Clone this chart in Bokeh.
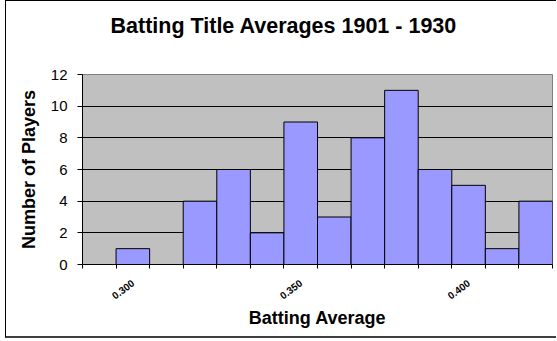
from bokeh.plotting import figure
from bokeh.models import Range1d, FixedTicker
from bokeh.embed import file_html
from bokeh.resources import INLINE

# ---- data ----
bin_centers = [0.290, 0.300, 0.310, 0.320, 0.330, 0.340, 0.350,
               0.360, 0.370, 0.380, 0.390, 0.400, 0.410, 0.420]
counts = [0, 1, 0, 4, 6, 2, 9, 3, 8, 11, 6, 5, 1, 4]
bin_edges = [0.285, 0.295, 0.305, 0.315, 0.325, 0.335, 0.345, 0.355,
             0.365, 0.375, 0.385, 0.395, 0.405, 0.415, 0.425]
label_ticks = [0.300, 0.350, 0.400]
label_texts = ["0.300", "0.350", "0.400"]
y_ticks = [0, 2, 4, 6, 8, 10, 12]
bin_width = 0.010
title_text = "Batting Title Averages 1901 - 1930"

FONT = "Liberation Sans"

p = figure(width=551, height=338, output_backend="svg", toolbar_location=None,
           x_range=Range1d(bin_edges[0], bin_edges[-1]), y_range=Range1d(0, 12),
           min_border_left=76, min_border_right=5, min_border_top=73, min_border_bottom=75)

# outer chart border (CSS on the host element)
p.styles = {"margin-left": "5px",
            "border-left": "1px solid black",
            "border-top": "1px solid black",
            "border-bottom": "2px solid #404040"}

p.background_fill_color = "#C0C0C0"
p.border_fill_color = "white"
p.outline_line_color = "#808080"
p.outline_line_width = 1

xs = [c for c, n in zip(bin_centers, counts) if n > 0]
ns = [n for n in counts if n > 0]
p.vbar(x=xs, top=ns, width=bin_width, bottom=0,
       fill_color="#9999FF", line_color="black", line_width=1)

# grid
p.xgrid.visible = False
p.ygrid.ticker = FixedTicker(ticks=y_ticks)
p.ygrid.grid_line_color = "black"
p.ygrid.grid_line_width = 1

# x axis
xa = p.xaxis[0]
xa.ticker = FixedTicker(ticks=label_ticks, minor_ticks=bin_edges)
xa.major_label_overrides = {t: s for t, s in zip(label_ticks, label_texts)}
xa.major_tick_out = 0
xa.major_tick_in = 0
xa.minor_tick_out = 4
xa.minor_tick_in = 0
xa.minor_tick_line_color = "black"
xa.axis_line_color = "black"
xa.major_label_orientation = 0.65
xa.major_label_text_font = FONT
xa.major_label_text_font_style = "bold"
xa.major_label_text_font_size = "10px"
xa.major_label_text_color = "black"
xa.major_label_standoff = 13
xa.axis_label = "Batting Average"
xa.axis_label_text_font = FONT
xa.axis_label_text_font_style = "bold"
xa.axis_label_text_font_size = "18px"
xa.axis_label_text_color = "black"
xa.axis_label_standoff = 2

# y axis
ya = p.yaxis[0]
ya.ticker = FixedTicker(ticks=y_ticks)
ya.major_tick_out = 5
ya.major_tick_in = 0
ya.minor_tick_line_color = None
ya.axis_line_color = "black"
ya.major_label_text_font = FONT
ya.major_label_text_font_size = "15px"
ya.major_label_text_color = "black"
ya.major_label_standoff = 10
ya.axis_label = "Number of Players"
ya.axis_label_text_font = FONT
ya.axis_label_text_font_style = "bold"
ya.axis_label_text_font_size = "18px"
ya.axis_label_text_color = "black"
ya.axis_label_standoff = 9

# title: a blank second line lifts the text well above the frame
p.title.text = title_text + "\n "
p.title.text_font = FONT
p.title.text_font_style = "bold"
p.title.text_font_size = "21.5px"
p.title.text_color = "black"
p.title.text_line_height = 1.3
p.title.align = "left"
p.title.offset = 28
p.title.standoff = 10

open("out.html", "w").write(file_html(p, INLINE))
